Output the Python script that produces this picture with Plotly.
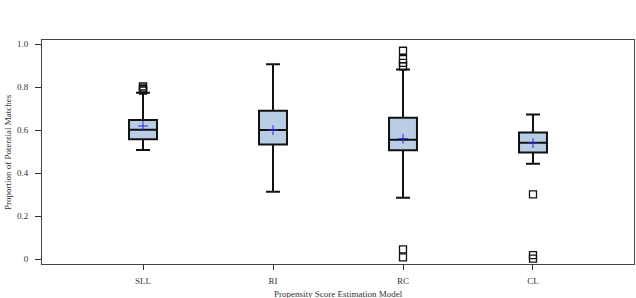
import plotly.graph_objects as go

categories = ["SLL", "RI", "RC", "CL"]
q1 = [0.557, 0.533, 0.506, 0.496]
medians = [0.601, 0.600, 0.555, 0.541]
q3 = [0.647, 0.690, 0.657, 0.589]
lower_whisker = [0.507, 0.313, 0.285, 0.443]
upper_whisker = [0.774, 0.906, 0.882, 0.673]
means = [0.619, 0.600, 0.560, 0.540]

outlier_cats = ["SLL", "SLL", "SLL", "SLL",
                "RC", "RC", "RC", "RC", "RC", "RC",
                "CL", "CL", "CL"]
outlier_vals = [0.784, 0.790, 0.797, 0.803,
                0.969, 0.930, 0.913, 0.897, 0.045, 0.008,
                0.301, 0.018, 0.002]

y_ticks = [0, 0.2, 0.4, 0.6, 0.8, 1.0]
y_tick_labels = ["0", "0.2", "0.4", "0.6", "0.8", "1.0"]

FONT = "Liberation Serif"
fig = go.Figure()

fig.add_trace(go.Box(
    x=categories, q1=q1, median=medians, q3=q3,
    lowerfence=lower_whisker, upperfence=upper_whisker,
    width=0.215, whiskerwidth=0.5,
    fillcolor="#b9cde5", line=dict(color="#111111", width=2),
    boxpoints=False, showlegend=False, hoverinfo="skip",
))

fig.add_trace(go.Scatter(
    x=outlier_cats, y=outlier_vals, mode="markers",
    marker=dict(symbol="square-open", size=7, color="#111111",
                line=dict(width=1.3, color="#111111")),
    showlegend=False, hoverinfo="skip",
))

fig.add_trace(go.Scatter(
    x=categories, y=means, mode="markers",
    marker=dict(symbol="cross-thin", size=7, color="#2a2ae0",
                line=dict(width=1, color="#2a2ae0")),
    showlegend=False, hoverinfo="skip",
))

axis_font = dict(family=FONT, size=9, color="#333333")

fig.update_layout(
    width=636, height=298,
    margin=dict(l=42, r=2, t=40, b=34),
    paper_bgcolor="white", plot_bgcolor="white",
    font=dict(family=FONT, size=9, color="#333333"),
    xaxis=dict(
        type="category", range=[-0.777, 3.777],
        showline=True, linecolor="#444444", linewidth=1, mirror=True,
        ticks="outside", ticklen=5, tickcolor="#333333", tickwidth=1,
        showgrid=False, zeroline=False, tickfont=axis_font,
        ticklabelstandoff=3,
    ),
    yaxis=dict(
        range=[-0.023, 1.019],
        tickvals=y_ticks, ticktext=y_tick_labels,
        showline=True, linecolor="#444444", linewidth=1, mirror=True,
        ticks="outside", ticklen=6, tickcolor="#333333", tickwidth=1,
        showgrid=False, zeroline=False, tickfont=axis_font,
        ticklabelstandoff=5,
    ),
    annotations=[
        dict(text="Proportion of Potential Matches", xref="paper", yref="paper",
             x=0, xshift=-34, y=0.5, textangle=-90, showarrow=False,
             font=dict(family=FONT, size=9, color="#333333"),
             xanchor="center", yanchor="middle"),
        dict(text="Propensity Score Estimation Model", xref="paper", yref="paper",
             x=0.5, y=0, yshift=-30, showarrow=False,
             font=dict(family=FONT, size=9, color="#333333"),
             xanchor="center", yanchor="middle"),
    ],
)

fig.write_html("out.html")
